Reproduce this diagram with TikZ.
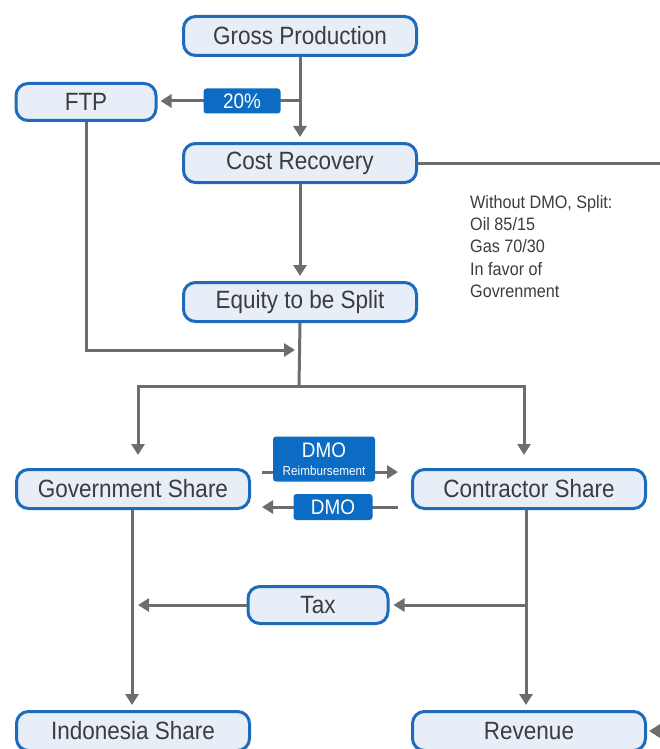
\documentclass[tikz,border=0pt]{standalone}
\usepackage{fontspec}
\setmainfont{Liberation Sans}[FakeStretch=0.9]
\usetikzlibrary{arrows.meta}

\definecolor{boxfill}{HTML}{E7EEF8}
\definecolor{boxline}{HTML}{1D6BBA}
\definecolor{tagfill}{HTML}{0C6BC2}
\definecolor{flowgray}{HTML}{6D6D6D}
\definecolor{txtgray}{HTML}{3C3C3C}

\tikzset{
  box/.style={draw=boxline, fill=boxfill, line width=3pt, rounded corners=12pt,
    minimum width=233pt, minimum height=39pt, inner sep=0pt, text=txtgray,
    font=\fontsize{25}{27}\selectfont},
  smallbox/.style={box, minimum width=140pt, minimum height=37pt},
  tag/.style={fill=tagfill, rounded corners=3pt, inner sep=0pt, text=white,
    font=\fontsize{21}{22}\selectfont},
  flow/.style={draw=flowgray, line width=3pt,
    -{Triangle[length=11pt,width=13pt]}},
  line/.style={draw=flowgray, line width=3pt},
}

\begin{document}
\begin{tikzpicture}[x=1pt,y=-1pt]
  \useasboundingbox (0,0) rectangle (660,749);
  \clip (0,0) rectangle (660,749);

  % boxes
  \node[box] (gross) at (300,36) {Gross Production};
  \node[smallbox] (ftp) at (86,102) {FTP};
  \node[box] (cost) at (300,163) {Cost Recovery};
  \node[box] (equity) at (300,302) {Equity to be Split};
  \node[box] (gov) at (133,489) {Government Share};
  \node[box] (contr) at (529,489) {Contractor Share};
  \node[smallbox] (tax) at (318,605) {Tax};
  \node[box] (indo) at (133,731) {Indonesia Share};
  \node[box] (rev) at (529,731) {Revenue};

  % helper points
  \coordinate (fork) at (299,101);
  \coordinate (join) at (295,350);
  \coordinate (split) at (299,386);
  \coordinate (govin) at (138,455);
  \coordinate (contrin) at (524,455);
  \coordinate (far) at (720,163);
  \coordinate (dra) at (262,472);
  \coordinate (drb) at (398,472);
  \coordinate (dma) at (398,507);
  \coordinate (dmb) at (262,507);
  \coordinate (taxin) at (525,605);
  \coordinate (taxout) at (138,605);

  % connectors
  \draw[flow, shorten >=5pt] (gross) -- (cost);
  \draw[flow, shorten >=3pt] (fork) -- (fork -| ftp.east);
  \draw[flow] (ftp.south) |- (join);
  \draw[flow, shorten >=5pt] (cost) -- (equity);
  \draw[line] (cost.east) -- (far);
  \draw[flow, shorten >=2pt] (far) |- (rev.east);
  \draw[line] (equity.south) -- (split);
  \draw[flow] (split) -| (govin);
  \draw[flow] (split) -| (contrin);
  \draw[flow] (dra) -- (drb);
  \draw[flow] (dma) -- (dmb);
  \draw[flow, shorten >=5pt] ([xshift=-1pt]gov.south) -- ([xshift=-1pt]indo.north);
  \draw[flow, shorten >=5pt] ([xshift=-3pt]contr.south) -- ([xshift=-3pt]rev.north);
  \draw[flow, shorten >=4pt] (taxin) -- (tax.east);
  \draw[flow] (tax.west) -- (taxout);

  % labels on the flows
  \node[tag, minimum width=77pt, minimum height=25pt] (pct) at (242,101) {20\%};
  \node[tag, minimum width=102pt, minimum height=45pt, align=center] (dmor) at (324,459)
    {DMO\\[-4pt]{\fontsize{13}{14}\selectfont Reimbursement}};
  \node[tag, minimum width=79pt, minimum height=26pt] (dmo) at (333,507) {DMO};

  % note
  \node[anchor=north west, align=left, inner sep=0pt, text=txtgray,
    font=\fontsize{18}{22.3}\selectfont] (note) at (470,195)
    {Without DMO, Split:\\Oil 85/15\\Gas 70/30\\In favor of\\Govrenment};
\end{tikzpicture}
\end{document}
